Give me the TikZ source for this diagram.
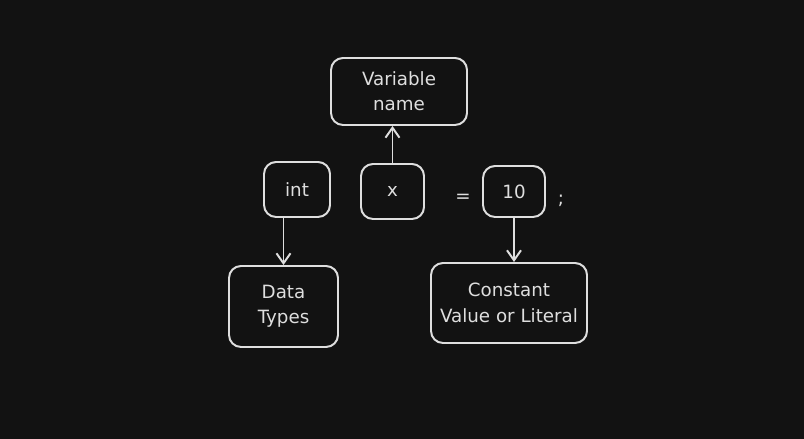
\documentclass[tikz,border=0pt]{standalone}
\usepackage{fontspec}
\setmainfont{DejaVu Sans}
\usepackage{xcolor}
\usetikzlibrary{arrows.meta}
\usetikzlibrary{positioning}
\definecolor{bgdark}{HTML}{121212}
\definecolor{chalk}{HTML}{DEDEDE}

\begin{document}
\begin{tikzpicture}[
    sketchbox/.style={rectangle, draw=chalk, line width=1.4pt, rounded corners=0.3cm, text=chalk, align=center, inner sep=1pt, font=\fontsize{13}{18}\selectfont},
    sketcharrow/.style={draw=chalk, line width=1.4pt, -{Straight Barb[length=2.5mm, width=3.5mm]}}
]

\newcommand\bh{1.375cm}

%\draw[step=1cm, gray, very thin, dotted] (0,0) grid (20,11);
\fill[bgdark] (0,0) rectangle (20.1,10.975);

\node at (9.975,8.6875) [sketchbox, minimum width=3.4cm, minimum height=1.675cm] (varname) {Variable\\ name};

\node at (7.425,6.2375) [sketchbox, minimum width=1.65cm, minimum height=\bh] (int) {int};
\node at (9.8125,6.1875) [sketchbox, minimum width=1.575cm, minimum height=\bh] (xvar) {x};
\node at (12.85,6.1875) [sketchbox, minimum width=1.55cm, minimum height=1.275cm] (ten) {10};

\node at (11.575,6.025) [text=chalk, font=\fontsize{13}{18}\selectfont] (eq) {=};
\node at (14.025,5.95) [text=chalk, font=\fontsize{13}{18}\selectfont] (semi) {;};

\node at (7.0875,3.3125) [sketchbox, minimum width=2.725cm, minimum height=2.025cm] (dtypes) {Data\\ Types};
\node at (12.725,3.4) [sketchbox, minimum width=3.9cm, minimum height=2cm] (const) {Constant\\ Value or Literal};

\draw[sketcharrow] (xvar.north) -- (xvar.north |- varname.south);
\draw[sketcharrow] (dtypes.north |- int.south) -- (dtypes.north);
\draw[sketcharrow] (ten.south) -- (ten.south |- const.north);

\end{tikzpicture}
\end{document}
